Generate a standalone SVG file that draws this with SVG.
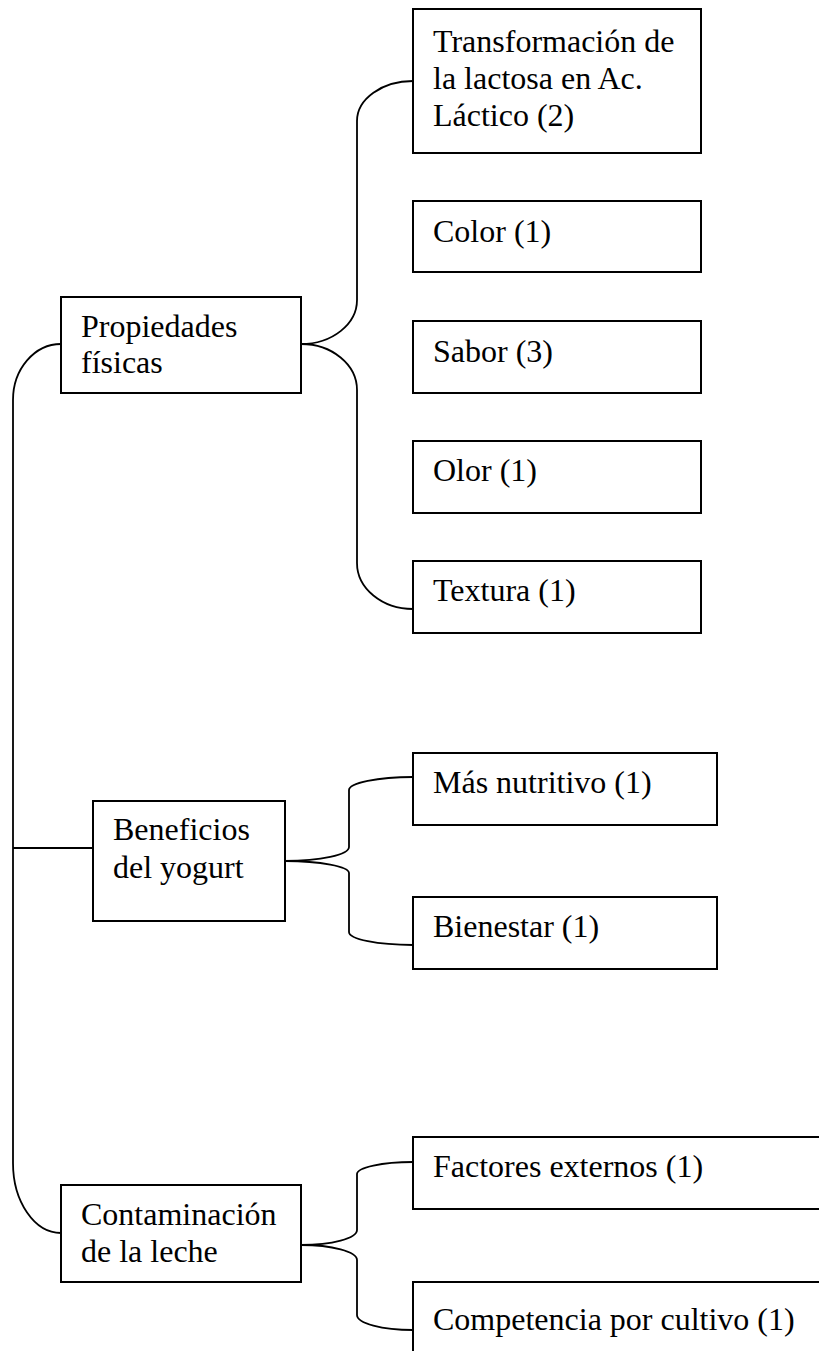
<svg xmlns="http://www.w3.org/2000/svg" width="819" height="1351" viewBox="0 0 819 1351">
  <style>
    .box { fill: #ffffff; stroke: #000000; stroke-width: 2; }
    .lbl { font-family: "Liberation Serif", "Times New Roman", serif; font-size: 32px; fill: #000000; }
    .link { fill: none; stroke: #000000; stroke-width: 1.8; }
  </style>
  <rect x="0" y="0" width="819" height="1351" fill="#ffffff"/>

  <!-- connectors -->
  <g id="connectors">
    <!-- main trunk -->
    <path class="link" d="M61,344 A48,56 0 0 0 13,400 L13,1163 A48,70 0 0 0 61,1233"/>
    <path class="link" d="M13,848 L93,848"/>
    <!-- Propiedades físicas branches -->
    <path class="link" d="M301,344 A56,44 0 0 0 357,300 L357,121 A56,40 0 0 1 413,81"/>
    <path class="link" d="M301,344 A56,46 0 0 1 357,390 L357,563 A56,46 0 0 0 413,609"/>
    <!-- Beneficios del yogurt branches -->
    <path class="link" d="M285,861 A64,14 0 0 0 349,847 L349,790 A64,13 0 0 1 413,777"/>
    <path class="link" d="M285,861 A64,12 0 0 1 349,873 L349,932 A64,13 0 0 0 413,945"/>
    <!-- Contaminación de la leche branches -->
    <path class="link" d="M301,1245 A56,15 0 0 0 357,1230 L357,1174 A56,12 0 0 1 413,1162"/>
    <path class="link" d="M301,1245 A56,15 0 0 1 357,1260 L357,1315 A56,15 0 0 0 413,1330"/>
  </g>

  <!-- first-level nodes -->
  <g id="propiedades">
    <rect class="box" x="61" y="297" width="240" height="96"/>
    <text class="lbl" x="81" y="337">Propiedades</text>
    <text class="lbl" x="81" y="373">físicas</text>
  </g>
  <g id="beneficios">
    <rect class="box" x="93" y="801" width="192" height="120"/>
    <text class="lbl" x="113" y="840">Beneficios</text>
    <text class="lbl" x="113" y="878">del yogurt</text>
  </g>
  <g id="contaminacion">
    <rect class="box" x="61" y="1185" width="240" height="97"/>
    <text class="lbl" x="81" y="1225">Contaminación</text>
    <text class="lbl" x="81" y="1262">de la leche</text>
  </g>

  <!-- second-level nodes -->
  <g id="transformacion">
    <rect class="box" x="413" y="9" width="288" height="144"/>
    <text class="lbl" x="433" y="52">Transformación de</text>
    <text class="lbl" x="433" y="89">la lactosa en Ac.</text>
    <text class="lbl" x="433" y="126">Láctico (2)</text>
  </g>
  <g id="color">
    <rect class="box" x="413" y="201" width="288" height="71"/>
    <text class="lbl" x="433" y="242">Color (1)</text>
  </g>
  <g id="sabor">
    <rect class="box" x="413" y="321" width="288" height="72"/>
    <text class="lbl" x="433" y="362">Sabor (3)</text>
  </g>
  <g id="olor">
    <rect class="box" x="413" y="441" width="288" height="72"/>
    <text class="lbl" x="433" y="481">Olor (1)</text>
  </g>
  <g id="textura">
    <rect class="box" x="413" y="561" width="288" height="72"/>
    <text class="lbl" x="433" y="601">Textura (1)</text>
  </g>
  <g id="nutritivo">
    <rect class="box" x="413" y="753" width="304" height="72"/>
    <text class="lbl" x="433" y="793">Más nutritivo (1)</text>
  </g>
  <g id="bienestar">
    <rect class="box" x="413" y="897" width="304" height="72"/>
    <text class="lbl" x="433" y="937">Bienestar (1)</text>
  </g>
  <g id="factores">
    <rect class="box" x="413" y="1137" width="430" height="72"/>
    <text class="lbl" x="433" y="1177">Factores externos (1)</text>
  </g>
  <g id="competencia">
    <rect class="box" x="413" y="1282" width="430" height="100"/>
    <text class="lbl" x="433" y="1330">Competencia por cultivo (1)</text>
  </g>
</svg>
